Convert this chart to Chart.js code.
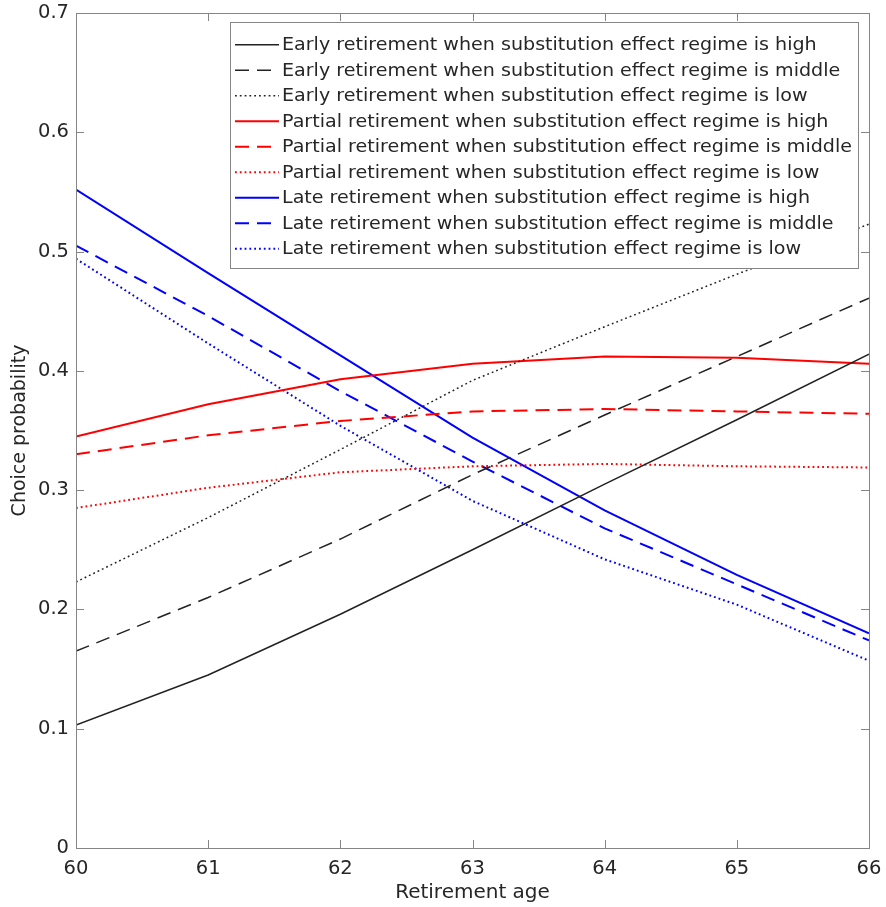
<!DOCTYPE html>
<html>
<head>
<meta charset="utf-8">
<script src="https://cdn.jsdelivr.net/npm/chart.js@4.4.1/dist/chart.umd.min.js"></script>
<style>
  html, body { margin: 0; background: #fff; }
</style>
</head>
<body>
<canvas id="choiceChart" width="886" height="907"></canvas>
<script>
// retirement ages on the x axis
const ages = [60, 61, 62, 63, 64, 65, 66];

// choice probabilities per regime
const earlyHigh   = [0.103, 0.145, 0.196, 0.250, 0.305, 0.359, 0.414];
const earlyMid    = [0.165, 0.210, 0.259, 0.313, 0.363, 0.412, 0.461];
const earlyLow    = [0.223, 0.277, 0.334, 0.392, 0.437, 0.481, 0.523];
const partialHigh = [0.345, 0.372, 0.393, 0.406, 0.412, 0.411, 0.406];
const partialMid  = [0.330, 0.346, 0.358, 0.366, 0.368, 0.366, 0.364];
const partialLow  = [0.285, 0.302, 0.315, 0.320, 0.322, 0.320, 0.319];
const lateHigh    = [0.552, 0.482, 0.413, 0.344, 0.283, 0.229, 0.180];
const lateMid     = [0.505, 0.446, 0.383, 0.324, 0.268, 0.221, 0.174];
const lateLow     = [0.494, 0.423, 0.354, 0.291, 0.242, 0.204, 0.157];

const yTicks = [0, 0.1, 0.2, 0.3, 0.4, 0.5, 0.6, 0.7];

const FONT = "'DejaVu Sans', sans-serif";
const TEXT = "#262626";
const AXIS = "#858585";

const SOLID = [];
const DASH = [14, 8];
const DOT = [1.8, 3];

function series(label, values, color, dash, width) {
  return {
    label: label,
    data: values.map((v, i) => ({ x: ages[i], y: v })),
    borderColor: color,
    backgroundColor: color,
    borderDash: dash,
    borderWidth: width,
    pointRadius: 0,
    tension: 0,
    fill: false,
  };
}

const datasets = [
  series("Early retirement when substitution effect regime is high", earlyHigh, "#222222", SOLID, 1.5),
  series("Early retirement when substitution effect regime is middle", earlyMid, "#222222", DASH, 1.5),
  series("Early retirement when substitution effect regime is low", earlyLow, "#222222", DOT, 1.5),
  series("Partial retirement when substitution effect regime is high", partialHigh, "#ff0000", SOLID, 2),
  series("Partial retirement when substitution effect regime is middle", partialMid, "#ff0000", DASH, 2),
  series("Partial retirement when substitution effect regime is low", partialLow, "#ff0000", DOT, 2),
  series("Late retirement when substitution effect regime is high", lateHigh, "#0000ff", SOLID, 2),
  series("Late retirement when substitution effect regime is middle", lateMid, "#0000ff", DASH, 2),
  series("Late retirement when substitution effect regime is low", lateLow, "#0000ff", DOT, 2),
];

// box around the plot with inward tick marks on all four sides
const axesBox = {
  id: "axesBox",
  afterDatasetsDraw(chart) {
    const { ctx, chartArea: a, scales } = chart;
    const len = 8;
    ctx.save();
    ctx.strokeStyle = AXIS;
    ctx.lineWidth = 1;
    ctx.setLineDash([]);
    ctx.strokeRect(a.left + 0.5, a.top + 0.5, a.right - a.left, a.bottom - a.top);
    ctx.beginPath();
    scales.y.ticks.forEach(t => {
      const py = Math.round(scales.y.getPixelForValue(t.value)) + 0.5;
      ctx.moveTo(a.left, py); ctx.lineTo(a.left + len, py);
      ctx.moveTo(a.right, py); ctx.lineTo(a.right - len, py);
    });
    scales.x.ticks.forEach(t => {
      const px = Math.round(scales.x.getPixelForValue(t.value)) + 0.5;
      ctx.moveTo(px, a.bottom); ctx.lineTo(px, a.bottom - len);
      ctx.moveTo(px, a.top); ctx.lineTo(px, a.top + len);
    });
    ctx.stroke();
    ctx.restore();
  }
};

// legend drawn as a framed box in the upper right of the plot
const legendBox = {
  id: "legendBox",
  afterDraw(chart) {
    const { ctx, chartArea: a } = chart;
    const items = chart.data.datasets;
    const rowH = 25.5, padTop = 10, padBottom = 6.5;
    const sampleW = 44, textW = 570;
    ctx.save();
    ctx.font = "17.5px " + FONT;
    const widest = Math.max(...items.map(d => ctx.measureText(d.label).width));
    const sx = textW / widest;
    const w = 5 + sampleW + 3 + textW + 6;
    const h = padTop + rowH * items.length + padBottom;
    const x0 = Math.round(a.right - 11 - w);
    const y0 = Math.round(a.top + 9);

    ctx.fillStyle = "#fff";
    ctx.fillRect(x0, y0, w, h);
    ctx.strokeStyle = AXIS;
    ctx.lineWidth = 1;
    ctx.strokeRect(x0 + 0.5, y0 + 0.5, w, h);

    items.forEach((d, i) => {
      const cy = y0 + padTop + rowH * (i + 0.5);
      ctx.beginPath();
      ctx.strokeStyle = d.borderColor;
      ctx.lineWidth = d.borderWidth;
      ctx.setLineDash(d.borderDash);
      ctx.moveTo(x0 + 5, cy);
      ctx.lineTo(x0 + 5 + sampleW, cy);
      ctx.stroke();

      ctx.save();
      ctx.translate(x0 + 5 + sampleW + 3, cy);
      ctx.scale(sx, 1);
      ctx.fillStyle = TEXT;
      ctx.textBaseline = "middle";
      ctx.textAlign = "left";
      ctx.fillText(d.label, 0, 1);
      ctx.restore();
    });
    ctx.restore();
  }
};

new Chart(document.getElementById("choiceChart"), {
  type: "line",
  data: { datasets: datasets },
  options: {
    responsive: false,
    animation: false,
    devicePixelRatio: 1,
    layout: { padding: { top: 13, right: 17, left: 0, bottom: 0 } },
    plugins: {
      legend: { display: false },
      tooltip: { enabled: false },
    },
    scales: {
      x: {
        type: "linear",
        min: ages[0],
        max: ages[ages.length - 1],
        grid: { display: false, drawTicks: false },
        border: { display: false },
        ticks: {
          stepSize: 1,
          color: TEXT,
          font: { family: FONT, size: 19.5 },
          padding: 9,
          maxRotation: 0,
        },
        title: {
          display: true,
          text: "Retirement age",
          color: TEXT,
          font: { family: FONT, size: 20 },
          padding: { top: 0, bottom: 2 },
        },
        afterFit(scale) {
          scale.height = 59;
          scale.paddingLeft = 0;
          scale.paddingRight = 0;
        },
      },
      y: {
        min: yTicks[0],
        max: yTicks[yTicks.length - 1],
        grid: { display: false, drawTicks: false },
        border: { display: false },
        afterBuildTicks(scale) {
          scale.ticks = yTicks.map(v => ({ value: v }));
        },
        ticks: {
          color: TEXT,
          font: { family: FONT, size: 19.5 },
          padding: 7,
          callback: v => String(Number(v.toFixed(1))),
        },
        title: {
          display: true,
          text: "Choice probability",
          color: TEXT,
          font: { family: FONT, size: 19 },
          padding: { top: 9, bottom: 0 },
        },
        afterFit(scale) {
          scale.width = 76;
          scale.paddingTop = 0;
          scale.paddingBottom = 0;
        },
      },
    },
  },
  plugins: [axesBox, legendBox],
});
</script>
</body>
</html>
